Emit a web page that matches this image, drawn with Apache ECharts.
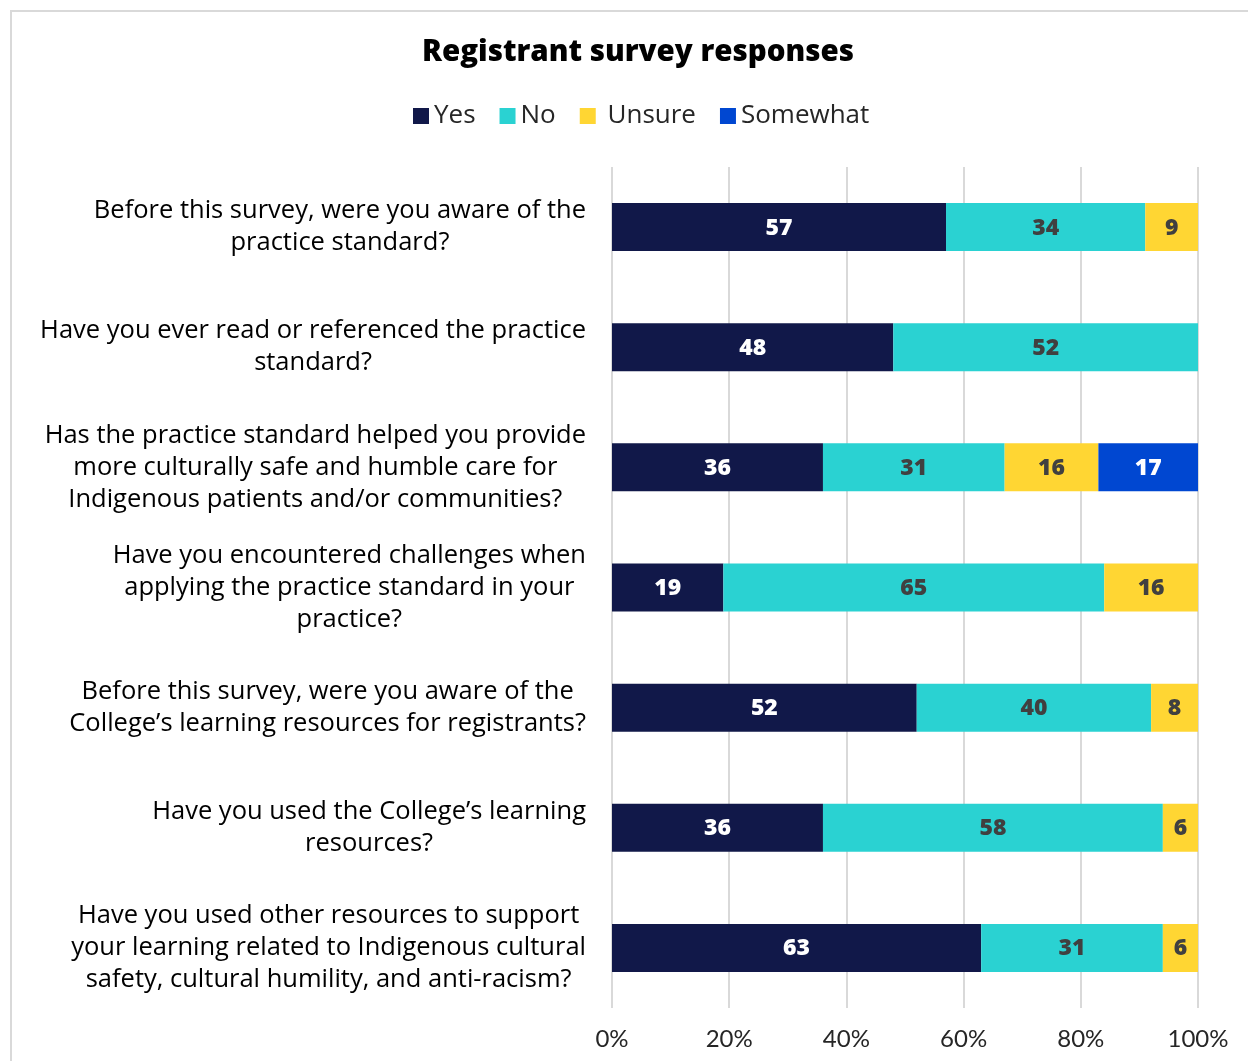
<!DOCTYPE html>
<html>
<head>
<meta charset="utf-8">
<script src="https://cdn.jsdelivr.net/npm/echarts@6/dist/echarts.min.js"></script>
<style>html,body{margin:0;padding:0;background:#fff}#c{width:1248px;height:1061px}</style>
</head>
<body>
<div id="c"></div>
<script>
const categories = [
  "Before this survey, were you aware of the\npractice standard?",
  "Have you ever read or referenced the practice\nstandard?",
  "Has the practice standard helped you provide\nmore culturally safe and humble care for\nIndigenous patients and/or communities?",
  "Have you encountered challenges when\napplying the practice standard in your\npractice?",
  "Before this survey, were you aware of the\nCollege\u2019s learning resources for registrants?",
  "Have you used the College\u2019s learning\nresources?",
  "Have you used other resources to support\nyour learning related to Indigenous cultural\nsafety, cultural humility, and anti-racism?"
];
const yesValues = [57, 48, 36, 19, 52, 36, 63];
const noValues = [34, 52, 31, 65, 40, 58, 31];
const unsureValues = [9, null, 16, 16, 8, 6, 6];
const somewhatValues = [null, null, 17, null, null, null, null];
const xTicks = [0, 20, 40, 60, 80, 100];

const FONT = 'Open Sans';
function mkSeries(name, data, color, labelColor) {
  return {
    name, type: 'bar', stack: 'total', data, barWidth: 48,
    itemStyle: { color },
    label: {
      show: true, position: 'inside', color: labelColor, offset: [0, 1],
      fontFamily: FONT, fontWeight: 800, fontSize: 23,
      formatter: p => (p.value == null ? '' : p.value)
    }
  };
}
const chart = echarts.init(document.getElementById('c'), null, { renderer: 'canvas' });
chart.setOption({
  backgroundColor: '#fff',
  animation: false,
  graphic: [{
    type: 'rect', silent: true, z: -10,
    shape: { x: 11, y: 11, width: 1260, height: 1070 },
    style: { fill: 'none', stroke: '#D9D9D9', lineWidth: 2 }
  }],
  title: {
    text: 'Registrant survey responses', left: 417, top: 33,
    textStyle: { fontFamily: FONT, fontWeight: 800, fontSize: 29.5, color: '#000' }
  },
  legend: {
    top: 98, left: 408, itemWidth: 16, itemHeight: 16, itemGap: 24,
    icon: 'rect',
    textStyle: { fontFamily: FONT, fontSize: 26, color: '#262626' },
    formatter: n => n === 'Unsure' ? ' Unsure' : n,
    data: ['Yes', 'No', 'Unsure', 'Somewhat']
  },
  grid: { left: 612, right: 50, top: 167, bottom: 53, containLabel: false },
  xAxis: {
    type: 'value', min: 0, max: 100, interval: 20,
    axisLine: { show: false }, axisTick: { show: false },
    splitLine: { show: true, lineStyle: { color: '#D9D9D9', width: 2 } },
    axisLabel: {
      fontFamily: 'Lato', fontSize: 24, color: '#262626', margin: 19,
      formatter: v => xTicks.includes(v) ? v + '%' : ''
    }
  },
  yAxis: {
    type: 'category', data: categories, inverse: true,
    axisLine: { show: false }, axisTick: { show: false },
    axisLabel: {
      margin: 26, fontFamily: FONT, fontSize: 25.5, color: '#000', lineHeight: 32,
      formatter: v => v.split('\n').map(l => '{c|' + l + '}').join('\n'),
      rich: { c: { align: 'center', fontFamily: FONT, fontSize: 25.5, color: '#000', lineHeight: 32 } }
    }
  },
  series: [
    mkSeries('Yes', yesValues, '#111849', '#ffffff'),
    mkSeries('No', noValues, '#2AD2D2', '#404040'),
    mkSeries('Unsure', unsureValues, '#FFD633', '#404040'),
    mkSeries('Somewhat', somewhatValues, '#0047D1', '#ffffff')
  ]
});
</script>
</body>
</html>
